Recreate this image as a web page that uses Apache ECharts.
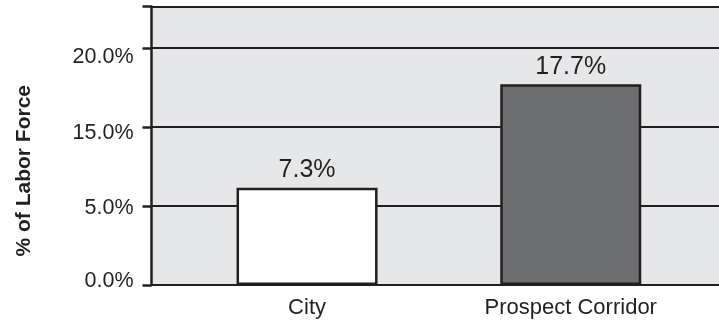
<!DOCTYPE html>
<html><head><meta charset="utf-8">
<script src="https://cdn.jsdelivr.net/npm/echarts@6/dist/echarts.min.js"></script>
<style>html,body{margin:0;padding:0;background:#fff}#c{width:719px;height:323px}</style>
</head><body><div id="c"></div>
<script>
const categories = ['City', 'Prospect Corridor'];
const values = [7.3, 17.7];
const barColors = ['#ffffff', '#6d6e70'];
const tickValues = [0, 5, 15, 20];
const tickLabels = ['0.0%', '5.0%', '15.0%', '20.0%'];
const axisTitle = '% of Labor Force';

// piecewise (broken) scale: ticks 0,5,15,20 are evenly spaced on the axis
function toAxis(v) {
  const n = tickValues.length - 1;
  for (let i = 1; i <= n; i++) {
    if (v <= tickValues[i] || i === n) {
      return (i - 1) + (v - tickValues[i - 1]) / (tickValues[i] - tickValues[i - 1]);
    }
  }
}

const ink = '#231f20';
const labelShift = [-4, 2, 6, 9];
const rich = { t: { fontSize: 21.5, lineHeight: 22, color: ink, fontFamily: 'Liberation Sans, Arial, sans-serif' } };
labelShift.forEach((d, i) => { rich['s' + i] = { fontSize: 1, lineHeight: Math.max(1, Math.abs(d) * 2) }; });

const axisMax = 3.525;
const chart = echarts.init(document.getElementById('c'), null, { renderer: 'canvas' });
chart.setOption({
  animation: false,
  backgroundColor: '#ffffff',
  textStyle: { fontFamily: 'Liberation Sans, Arial, sans-serif', color: ink },
  grid: [
    { left: 151.5, right: 0, top: 6.5, bottom: 38, show: true, backgroundColor: '#e6e7e8', borderWidth: 0 },
    { left: 175.2, right: 16.4, top: 6.5, bottom: 38, show: false }
  ],
  xAxis: [
    { type: 'value', gridIndex: 0, show: false, min: 0, max: 1 },
    { type: 'category', gridIndex: 1, data: categories,
      axisLine: { show: false }, axisTick: { show: false },
      axisLabel: { fontSize: 22, color: ink, margin: 12, interval: 0 } }
  ],
  yAxis: [
    { type: 'value', gridIndex: 0, min: 0, max: axisMax, interval: 1,
      name: axisTitle, nameLocation: 'middle', nameGap: 117, nameRotate: 90,
      nameTextStyle: { fontSize: 21, fontWeight: 'bold', color: ink, padding: [0, 50, 0, 0] },
      axisLine: { show: true, lineStyle: { color: ink, width: 2.5 } },
      axisTick: { show: true, length: 9, lineStyle: { color: ink, width: 2.5 } },
      splitLine: { show: true, lineStyle: { color: ink, width: 2 } },
      axisLabel: {
        margin: 18, rich: rich,
        formatter: function (v) {
          const i = Math.round(v);
          if (Math.abs(v - i) > 1e-6 || i >= tickLabels.length) return '';
          const d = labelShift[i];
          if (d > 0) return '{s' + i + '| }\n{t|' + tickLabels[i] + '}';
          if (d < 0) return '{t|' + tickLabels[i] + '}\n{s' + i + '| }';
          return '{t|' + tickLabels[i] + '}';
        }
      } },
    { type: 'value', gridIndex: 1, min: 0, max: axisMax, show: false }
  ],
  series: [{
    type: 'bar', xAxisIndex: 1, yAxisIndex: 1, barWidth: 141,
    data: values.map((v, i) => ({ value: toAxis(v), itemStyle: { color: barColors[i] } })),
    itemStyle: { borderColor: ink, borderWidth: 2.5 },
    label: { show: true, position: 'top', distance: 5, fontSize: 25, color: ink,
      formatter: p => values[p.dataIndex].toFixed(1) + '%' }
  }]
});
</script></body></html>
